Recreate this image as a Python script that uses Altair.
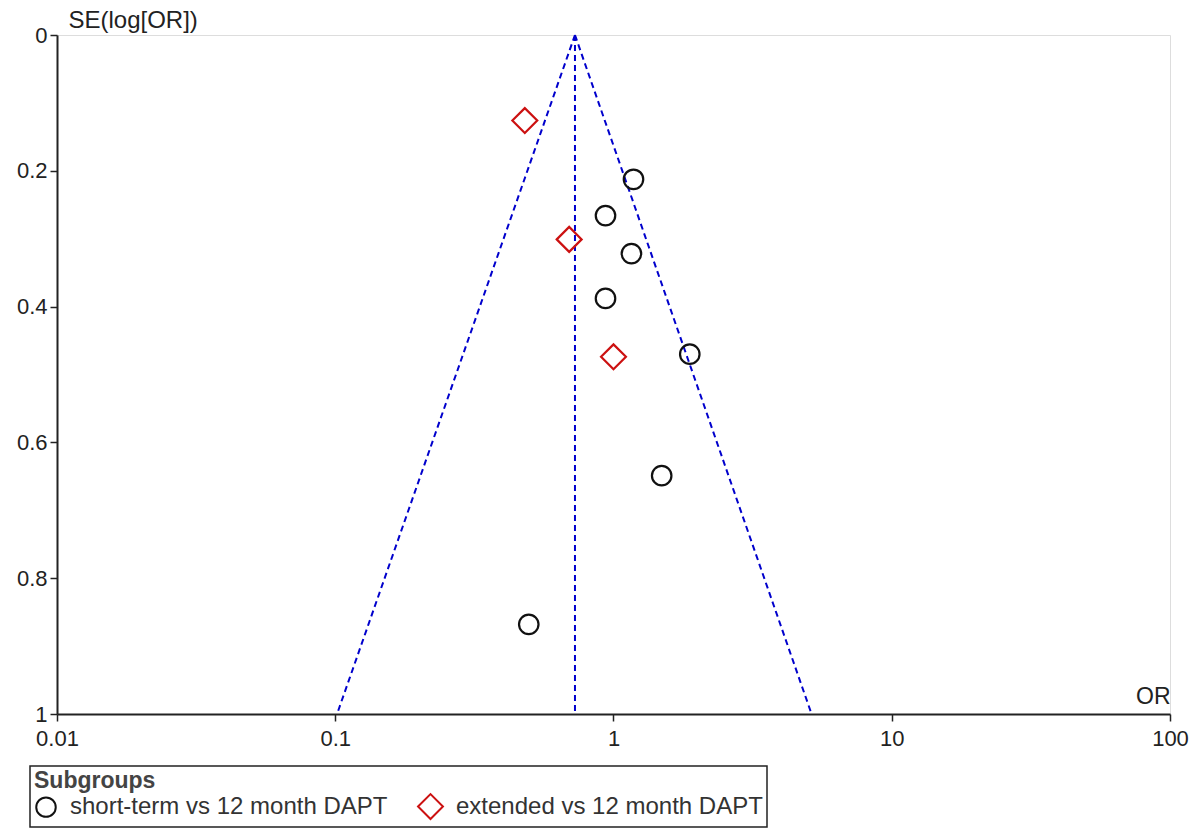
import altair as alt
import pandas as pd

# Study points
short_or = [1.18, 0.936, 1.16, 0.936, 1.88, 1.49, 0.496]
short_se = [0.2125, 0.266, 0.322, 0.388, 0.470, 0.649, 0.868]
ext_or = [0.48, 0.693, 1.0]
ext_se = [0.126, 0.301, 0.474]

groups = ["short-term vs 12 month DAPT", "extended vs 12 month DAPT"]

# Funnel lines (pooled estimate and pseudo 95% limits), endpoints
line_names = ["left", "left", "center", "center", "right", "right"]
line_or = [0.727, 0.1015, 0.727, 0.727, 0.727, 5.15]
line_se = [0.0, 1.0, 0.0, 1.0, 0.0, 1.0]

x_ticks = [0.01, 0.1, 1, 10, 100]
y_ticks = [0, 0.2, 0.4, 0.6, 0.8, 1.0]

pts = pd.DataFrame({
    "OR": short_or + ext_or,
    "SE": short_se + ext_se,
    "group": [groups[0]] * len(short_or) + [groups[1]] * len(ext_or),
})
lines = pd.DataFrame({"line": line_names, "OR": line_or, "SE": line_se,
                      "ord": list(range(len(line_names)))})

FONT = "Liberation Sans"

xscale = alt.Scale(type="log", domain=[0.01, 100], nice=False)
yscale = alt.Scale(domain=[0, 1], reverse=True, nice=False, zero=False)

xaxis = alt.Axis(values=x_ticks, format="~g", title="OR", titleAngle=0,
                 titleAlign="right", titleBaseline="bottom", titleX=1113, titleY=-6,
                 titleFontWeight="normal", titleFontSize=23, titleColor="#222",
                 labelFontSize=22, labelColor="#222", labelPadding=7,
                 tickSize=7, tickColor="#222", tickWidth=1.5,
                 domainColor="#222", domainWidth=2, grid=False, labelFlush=False)
yaxis = alt.Axis(values=y_ticks, format=".1~f", title="SE(log[OR])", titleAngle=0,
                 titleAlign="left", titleBaseline="middle", titleX=11, titleY=-15,
                 titleFontWeight="normal", titleFontSize=24, titleColor="#222",
                 labelFontSize=22, labelColor="#222", labelPadding=3,
                 tickSize=7, tickColor="#222", tickWidth=1.5,
                 domainColor="#222", domainWidth=2, grid=False)

funnel = alt.Chart(lines).mark_line(
    color="#0000cc", strokeDash=[6, 4], strokeWidth=2
).encode(
    x=alt.X("OR:Q", scale=xscale, axis=xaxis),
    y=alt.Y("SE:Q", scale=yscale, axis=yaxis),
    detail="line:N",
    order="ord:Q",
)

leg = alt.Legend(title="Subgroups")
points = alt.Chart(pts).mark_point(filled=False, strokeWidth=2.2, opacity=1).encode(
    x=alt.X("OR:Q", scale=xscale),
    y=alt.Y("SE:Q", scale=yscale),
    shape=alt.Shape("group:N", scale=alt.Scale(domain=groups, range=["circle", "diamond"]),
                    legend=leg),
    color=alt.Color("group:N", scale=alt.Scale(domain=groups, range=["#111111", "#cc1111"]),
                    legend=leg),
    size=alt.Size("group:N", scale=alt.Scale(domain=groups, range=[380, 620]),
                  legend=leg),
)

chart = alt.layer(funnel, points).properties(
    width=1113, height=679,
    autosize=alt.AutoSizeParams(type="none"),
    padding={"left": 57, "top": 35, "right": 31, "bottom": 120},
).configure_view(stroke=None).configure(
    font=FONT
).configure_legend(
    orient="none", legendX=-27, legendY=731, direction="horizontal",
    strokeColor="#222", strokeWidth=1.5, padding=4, cornerRadius=0,
    titleFontSize=23, titleFontWeight="bold", titleColor="#444", titlePadding=0,
    titleLimit=600, labelLimit=600,
    labelFontSize=24, labelColor="#333", symbolStrokeWidth=2,
    columnPadding=26, labelOffset=12,
)

chart.save("out.html", embed_options={"renderer": "svg", "actions": False})
